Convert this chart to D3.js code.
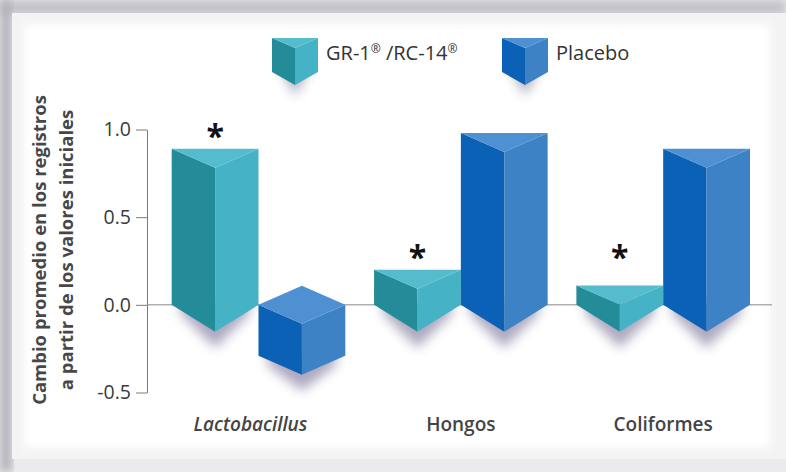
<!DOCTYPE html>
<html>
<head>
<meta charset="utf-8">
<script src="https://cdn.jsdelivr.net/npm/d3@7"></script>
<style>
  body { margin: 0; background: #fff; }
  svg { display: block; font-family: "Open Sans", sans-serif; }
</style>
</head>
<body>
<svg id="chart" width="786" height="472"></svg>
<script>
/** Chart data */
var categories = ['Lactobacillus', 'Hongos', 'Coliformes'];
var seriesNames = ['GR-1® /RC-14®', 'Placebo'];
var grValues = [0.89, 0.2, 0.11];
var placeboValues = [-0.29, 0.98, 0.89];
var significant = [true, true, true];
var yTicks = [-0.5, 0.0, 0.5, 1.0];
var yTitle = ['Cambio promedio en los registros', 'a partir de los valores iniciales'];

/** Face colours per series: [left, right, top] */
var faceColors = {
    'GR-1® /RC-14®': ['#248b99', '#45b2c6', '#55bccd'],
    'Placebo': ['#0b61b5', '#3d82c4', '#4f90d2']
};

var svg = d3.select('#chart');
var width = 786, height = 472;

var defs = svg.append('defs');
defs.append('filter').attr('id', 'soft')
    .attr('x', '-50%').attr('y', '-50%').attr('width', '200%').attr('height', '200%')
    .append('feGaussianBlur').attr('stdDeviation', 6);
defs.append('filter').attr('id', 'edge')
    .attr('x', '-10%').attr('y', '-10%').attr('width', '120%').attr('height', '120%')
    .append('feGaussianBlur').attr('stdDeviation', 4);

// frame / panel
svg.append('rect').attr('width', width).attr('height', height).attr('fill', '#ebebed');
svg.append('rect').attr('width', width).attr('height', 15).attr('fill', '#c3c2c8').attr('filter', 'url(#edge)');
svg.append('rect').attr('width', 12).attr('height', height).attr('fill', '#b4b3ba').attr('filter', 'url(#edge)');
svg.append('rect').attr('x', 12).attr('y', 13).attr('width', 790).attr('height', 446)
    .attr('fill', '#f3f3f4');
svg.append('rect').attr('x', 24).attr('y', 24).attr('width', 746).attr('height', 424)
    .attr('fill', '#ffffff').attr('filter', 'url(#edge)');

/** Scales */
var x0 = d3.scaleBand().domain(categories).range([171.7, 750]).paddingInner(0.142).paddingOuter(0);
var x1 = d3.scaleBand().domain(seriesNames).range([0, x0.bandwidth()]);
var y = d3.scaleLinear().domain([-0.5, 1.0]).range([392.5, 129.5]);

var axisX = 147;

// y axis
var yAxis = d3.axisLeft(y)
    .tickValues(yTicks)
    .tickFormat(function(d) { return d.toFixed(1); })
    .tickSize(11)
    .tickSizeOuter(0)
    .tickPadding(5);
var gAxis = svg.append('g').attr('transform', 'translate(' + axisX + ',0)').call(yAxis);
gAxis.select('.domain').attr('stroke', '#7a7a7a').attr('stroke-width', 1);
gAxis.selectAll('.tick line').attr('stroke', '#7a7a7a');
gAxis.selectAll('.tick text')
    .attr('fill', '#3a3a3a')
    .style('font-size', '19.5px')
    .style('font-family', '"Open Sans", sans-serif');

// y title
svg.append('g').attr('transform', 'translate(0,250) rotate(-90)')
    .selectAll('text').data(yTitle).enter().append('text')
    .attr('x', 0)
    .attr('y', function(d, i) { return 46 + i * 27; })
    .attr('text-anchor', 'middle')
    .attr('fill', '#474747')
    .style('font-size', '18.5px')
    .style('font-weight', 700)
    .text(function(d) { return d; });

// zero line
svg.append('line')
    .attr('x1', axisX).attr('x2', 772)
    .attr('y1', y(0)).attr('y2', y(0))
    .attr('stroke', '#8a8a8a').attr('stroke-width', 1);

/** Build bar records */
var bars = [];
categories.forEach(function(c, i) {
    bars.push({cat: c, s: seriesNames[0], v: grValues[i], i: i});
    bars.push({cat: c, s: seriesNames[1], v: placeboValues[i], i: i});
});

var dTop = 19, dBottom = 27, dNeg = 19;

function prismFaces(x, w, v) {
    var xm = x + w / 2;
    var faces = {};
    if (v >= 0) {
        var yT = y(v), yB = y(0);
        faces.left = [[x, yT], [xm, yT + dTop], [xm, yB + dBottom], [x, yB]];
        faces.right = [[xm, yT + dTop], [x + w, yT], [x + w, yB], [xm, yB + dBottom]];
        faces.top = [[x, yT], [x + w, yT], [xm, yT + dTop]];
        faces.shadow = [[x + 8, yB - 4], [x + w - 8, yB - 4], [x + w - 10, yB + 10], [xm, yB + dBottom + 16], [x + 10, yB + 10]];
    } else {
        var yT2 = y(0), yB2 = y(v);
        faces.left = [[x, yT2], [xm, yT2 + dNeg], [xm, yB2 + dNeg], [x, yB2]];
        faces.right = [[xm, yT2 + dNeg], [x + w, yT2], [x + w, yB2], [xm, yB2 + dNeg]];
        faces.top = [[x, yT2], [xm, yT2 - dNeg], [x + w, yT2], [xm, yT2 + dNeg]];
        faces.shadow = [[x + 8, yB2 - 4], [x + w - 8, yB2 - 4], [x + w - 10, yB2 + 10], [xm, yB2 + dNeg + 16], [x + 10, yB2 + 10]];
    }
    return faces;
}

var line = d3.line();

// shadows
svg.append('g').selectAll('path').data(bars).enter().append('path')
    .attr('d', function(d) {
        return line(prismFaces(x0(d.cat) + x1(d.s), x1.bandwidth(), d.v).shadow) + 'Z';
    })
    .attr('fill', '#4a3f72')
    .attr('opacity', 0.45)
    .attr('filter', 'url(#soft)');

// bars
var gBars = svg.append('g').selectAll('g').data(bars).enter().append('g');
['left', 'right', 'top'].forEach(function(face, k) {
    gBars.append('path')
        .attr('d', function(d) {
            return line(prismFaces(x0(d.cat) + x1(d.s), x1.bandwidth(), d.v)[face]) + 'Z';
        })
        .attr('fill', function(d) { return faceColors[d.s][k]; });
});

// asterisks
svg.append('g').selectAll('text')
    .data(categories.filter(function(c, i) { return significant[i]; }))
    .enter().append('text')
    .attr('x', function(c) { return x0(c) + x1(seriesNames[0]) + x1.bandwidth() / 2; })
    .attr('y', function(c) {
        var v = grValues[categories.indexOf(c)];
        return Math.min(y(v), y(0.2)) - 1;
    })
    .attr('text-anchor', 'middle')
    .attr('fill', '#111')
    .style('font-size', '32px')
    .style('font-weight', 700)
    .text('*');

// category labels
svg.append('g').selectAll('text').data(categories).enter().append('text')
    .attr('x', function(c) { return x0(c) + x0.bandwidth() / 2 - (c === categories[0] ? 8 : 0); })
    .attr('y', 431)
    .attr('text-anchor', 'middle')
    .attr('fill', '#444')
    .style('font-size', '19px')
    .style('font-weight', 600)
    .style('font-style', function(c, i) { return i === 0 ? 'italic' : 'normal'; })
    .text(function(c) { return c; });

// legend
var legendX = [272, 502];
var legend = svg.append('g').selectAll('g').data(seriesNames).enter().append('g')
    .attr('transform', function(d, i) { return 'translate(' + legendX[i] + ',38)'; });
var sw = 46;
legend.append('path')
    .attr('d', line([[6, 24], [sw - 6, 24], [sw / 2, 58]]) + 'Z')
    .attr('fill', '#4a3f72').attr('opacity', 0.45).attr('filter', 'url(#soft)');
legend.append('path')
    .attr('d', line([[0, 0], [sw / 2, 10], [sw / 2, 47], [0, 34]]) + 'Z')
    .attr('fill', function(d) { return faceColors[d][0]; });
legend.append('path')
    .attr('d', line([[sw / 2, 10], [sw, 0], [sw, 34], [sw / 2, 47]]) + 'Z')
    .attr('fill', function(d) { return faceColors[d][1]; });
legend.append('path')
    .attr('d', line([[0, 0], [sw, 0], [sw / 2, 10]]) + 'Z')
    .attr('fill', function(d) { return faceColors[d][2]; });

// legend labels, with the ® marks set as superscripts
var legendText = legend.append('text')
    .attr('x', sw + 8)
    .attr('y', 22)
    .attr('fill', '#333')
    .style('font-size', '20px');
legendText.each(function(d) {
    var t = d3.select(this);
    d.split(/(®)/).forEach(function(part) {
        if (!part) return;
        var span = t.append('tspan').text(part);
        if (part === '®') {
            span.style('font-size', '12px').attr('baseline-shift', '55%');
        }
    });
});
</script>
</body>
</html>
